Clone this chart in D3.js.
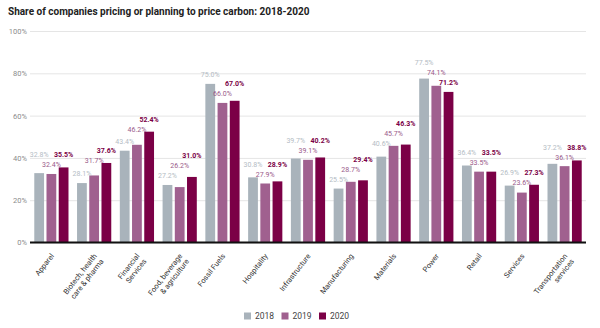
<!DOCTYPE html>
<html>
<head>
<meta charset="utf-8">
<script src="https://cdn.jsdelivr.net/npm/d3@7"></script>
<style>
  body { margin: 0; background: #fff; }
  svg { font-family: Roboto, "Open Sans", sans-serif; display: block; }
</style>
</head>
<body>
<div id="container"></div>
<script>
let w = 600;
let h = 328;

let categories = ["Apparel", "Biotech, health|care & pharma", "Financial|Services", "Food, beverage|& agriculture", "Fossil Fuels", "Hospitality", "Infrastructure", "Manufacturing", "Materials", "Power", "Retail", "Services", "Transportation|services"];
let years = ["2018", "2019", "2020"];
let values2018 = [32.8, 28.1, 43.4, 27.2, 75.0, 30.8, 39.7, 25.5, 40.6, 77.5, 36.4, 26.9, 37.2];
let values2019 = [32.4, 31.7, 46.2, 26.2, 66.0, 27.9, 39.1, 28.7, 45.7, 74.1, 33.5, 23.6, 36.1];
let values2020 = [35.5, 37.6, 52.4, 31.0, 67.0, 28.9, 40.2, 29.4, 46.3, 71.2, 33.5, 27.3, 38.8];
let yTicks = [0, 20, 40, 60, 80, 100];

let barColors = { "2018": "#a9b3bb", "2019": "#a0608f", "2020": "#7b0046" };
let labelColors = { "2018": "#b4bcc4", "2019": "#9a5a8a", "2020": "#7b0046" };

let seriesValues = { "2018": values2018, "2019": values2019, "2020": values2020 };

let plotLeft = 30, plotRight = 586, plotTop = 31, plotBottom = 242.5;

let viz = d3.select("#container")
  .append("svg")
  .attr("width", w)
  .attr("height", h);

viz.append("text")
  .attr("x", 8)
  .attr("y", 15)
  .attr("font-size", "10px")
  .attr("font-weight", "bold")
  .attr("fill", "#222")
  .text("Share of companies pricing or planning to price carbon: 2018-2020");

let yScale = d3.scaleLinear().domain([0, 100]).range([plotBottom, plotTop]);
let x0 = d3.scaleBand().domain(categories).range([plotLeft, plotRight]).paddingInner(0.2).paddingOuter(0.1);
let x1 = d3.scaleBand().domain(years).range([0, x0.bandwidth()]).paddingInner(0.2);

// gridlines + tick labels
let yAxis = viz.append("g")
  .attr("transform", `translate(${plotLeft}, 0)`)
  .call(d3.axisLeft(yScale).tickValues(yTicks).tickSize(-(plotRight - plotLeft)).tickFormat(d => d + "%"));
yAxis.select(".domain").remove();
yAxis.selectAll(".tick line").attr("stroke", "#e5e5e5").attr("stroke-width", 1);
yAxis.selectAll(".tick text")
  .attr("x", -3)
  .attr("fill", "#8c8c8c")
  .attr("font-size", "7.5px")
  .attr("font-family", "Roboto, sans-serif");

// bars
let rows = categories.map((c, i) => ({ cat: c, vals: years.map(y => ({ year: y, value: seriesValues[y][i] })) }));

let groups = viz.selectAll(".cat-group")
  .data(rows)
  .enter()
  .append("g")
  .attr("class", "cat-group")
  .attr("transform", d => `translate(${x0(d.cat)}, 0)`);

groups.selectAll("rect")
  .data(d => d.vals)
  .enter()
  .append("rect")
  .attr("x", d => x1(d.year))
  .attr("y", d => yScale(d.value))
  .attr("width", x1.bandwidth())
  .attr("height", d => plotBottom - yScale(d.value))
  .attr("fill", d => barColors[d.year]);

// value labels: sit above own bar and clear of the bar to the right,
// then get nudged upward so adjacent labels don't collide
let labelOffset = 9;
let neighbourOffset = 2;
let labelGap = 10;
groups.each(function(d) {
  let g = d3.select(this);
  let tops = d.vals.map(v => yScale(v.value));
  let items = d.vals.map((v, i) => {
    let y = tops[i] - labelOffset;
    if (i < tops.length - 1) y = Math.min(y, tops[i + 1] - neighbourOffset);
    return { ...v, i: i, cx: x1(v.year) + x1.bandwidth() / 2, y: y };
  });
  let order = items.slice().sort((a, b) => b.y - a.y);
  let placed = [];
  order.forEach(item => {
    let changed = true;
    while (changed) {
      changed = false;
      placed.forEach(p => {
        if (Math.abs(p.i - item.i) === 1 && Math.abs(p.y - item.y) < labelGap) {
          item.y = p.y - labelGap;
          changed = true;
        }
      });
    }
    placed.push(item);
  });
  g.selectAll(".val-label")
    .data(items)
    .enter()
    .append("text")
    .attr("class", "val-label")
    .attr("x", v => v.cx)
    .attr("y", v => v.y)
    .attr("dy", "0.35em")
    .attr("text-anchor", "middle")
    .attr("font-size", "7px")
    .attr("font-weight", v => v.year === "2020" ? "bold" : "normal")
    .attr("fill", v => labelColors[v.year])
    .text(v => v.value.toFixed(1) + "%");
});

// baseline
viz.append("line")
  .attr("x1", plotLeft)
  .attr("x2", plotRight)
  .attr("y1", yScale(0))
  .attr("y2", yScale(0))
  .attr("stroke", "#111")
  .attr("stroke-width", 2);

// category labels
let catLabels = viz.selectAll(".cat-label")
  .data(categories)
  .enter()
  .append("text")
  .attr("class", "cat-label")
  .attr("transform", d => `translate(${x0(d) + x0.bandwidth() / 2 + 1}, ${plotBottom + 12}) rotate(-52)`)
  .attr("text-anchor", "end")
  .attr("font-size", "7.5px")
  .attr("fill", "#333");

catLabels.each(function(d) {
  let t = d3.select(this);
  d.split("|").forEach((line, i) => {
    t.append("tspan")
      .attr("x", 0)
      .attr("dy", i === 0 ? "0.35em" : "1.15em")
      .text(line);
  });
});

// legend
let legend = viz.append("g").attr("transform", "translate(244, 316)");
let legendX = [0, 37.5, 75];
years.forEach((y, i) => {
  let item = legend.append("g").attr("transform", `translate(${legendX[i]}, 0)`);
  item.append("rect")
    .attr("x", 0)
    .attr("y", -3.5)
    .attr("width", 7)
    .attr("height", 7)
    .attr("fill", barColors[y]);
  item.append("text")
    .attr("x", 11)
    .attr("y", 0)
    .attr("dy", "0.35em")
    .attr("font-size", "8.5px")
    .attr("fill", "#444")
    .text(y);
});
</script>
</body>
</html>
